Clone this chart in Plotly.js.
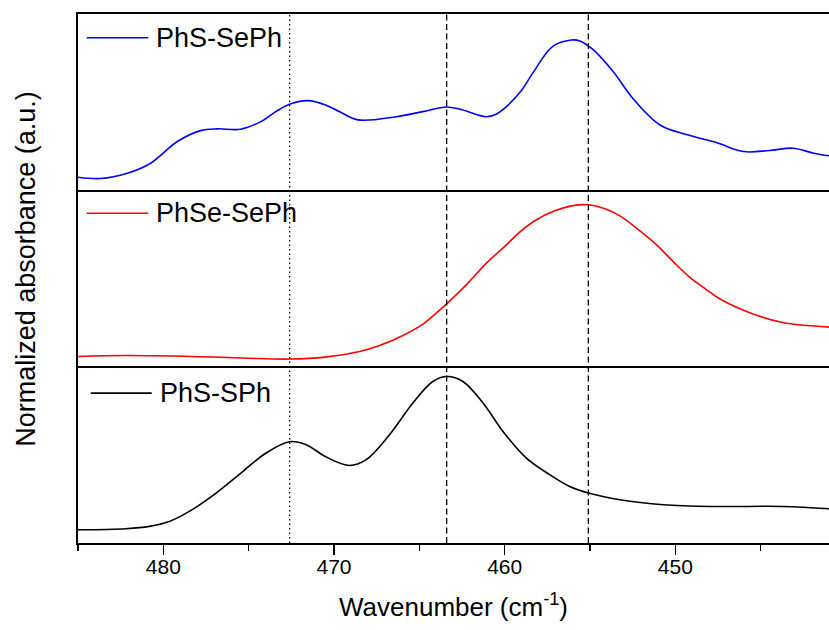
<!DOCTYPE html>
<html>
<head>
<meta charset="utf-8">
<script src="https://cdn.plot.ly/plotly-3.0.1.min.js"></script>
<style>html,body{margin:0;padding:0;background:#fff;}#chart{width:829px;height:630px;}</style>
</head>
<body>
<div id="chart"></div>
<script>
// Data (wavenumber in cm-1, normalized absorbance per panel)
var seriesNames = ['PhS-SePh', 'PhSe-SePh', 'PhS-SPh'];
var seriesColors = ['#0000FF', '#FF0000', '#000000'];

var phsSephX = [485.04, 483.68, 482.11, 480.74, 479.18, 477.81, 476.83, 475.47, 474.29, 473.31, 472.53, 471.55, 470.5, 469.7, 468.6, 466.35, 464.8, 463.4, 462.6, 461.1, 460.5, 459.9, 459.0, 458.3, 457.2, 456.1, 455.6, 454.8, 453.65, 452.5, 450.9, 449.3, 447.6, 446.0, 444.5, 443.1, 441.9, 441.0];
var phsSephY = [0.074, 0.066, 0.096, 0.153, 0.276, 0.338, 0.348, 0.346, 0.389, 0.452, 0.490, 0.508, 0.484, 0.446, 0.399, 0.417, 0.446, 0.472, 0.459, 0.417, 0.431, 0.474, 0.569, 0.673, 0.815, 0.852, 0.847, 0.796, 0.673, 0.522, 0.370, 0.314, 0.270, 0.219, 0.225, 0.238, 0.210, 0.195];

var phseSephX = [485.0, 482.2, 478.3, 475.35, 472.6, 470.5, 468.5, 467.33, 465.96, 464.79, 463.42, 462.25, 461.07, 459.90, 459.12, 458.14, 457.07, 456.09, 455.11, 454.13, 453.25, 452.28, 451.10, 450.13, 449.15, 448.17, 447.41, 445.6, 443.7, 441.0];
var phseSephY = [0.057, 0.062, 0.057, 0.048, 0.042, 0.053, 0.085, 0.119, 0.176, 0.240, 0.354, 0.463, 0.586, 0.690, 0.762, 0.832, 0.883, 0.911, 0.917, 0.894, 0.854, 0.785, 0.690, 0.595, 0.505, 0.435, 0.384, 0.303, 0.249, 0.223];

var phsSphX = [485.0, 482.2, 480.82, 479.65, 478.48, 476.91, 475.35, 473.98, 472.61, 471.63, 470.46, 469.09, 468.11, 466.75, 465.38, 464.21, 463.38, 462.45, 461.27, 460.10, 458.73, 457.36, 456.19, 455.1, 453.25, 450.7, 447.8, 443.7, 441.0];
var phsSphY = [0.075, 0.081, 0.094, 0.122, 0.179, 0.283, 0.405, 0.510, 0.574, 0.557, 0.487, 0.439, 0.472, 0.613, 0.793, 0.915, 0.943, 0.915, 0.793, 0.632, 0.481, 0.387, 0.320, 0.283, 0.245, 0.217, 0.207, 0.207, 0.194];

var dottedLines = [472.6];
var dashedLines = [463.4, 455.1];
var xTickVals = [480, 470, 460, 450];
var xRange = [485.0, 441.0];

var FONT = 'Liberation Sans, Arial, sans-serif';

var traces = [
  {x: phsSephX, y: phsSephY, xaxis: 'x3', yaxis: 'y3', name: seriesNames[0]},
  {x: phseSephX, y: phseSephY, xaxis: 'x2', yaxis: 'y2', name: seriesNames[1]},
  {x: phsSphX, y: phsSphY, xaxis: 'x', yaxis: 'y', name: seriesNames[2]}
].map(function (t, i) {
  t.type = 'scatter';
  t.mode = 'lines';
  t.line = {color: seriesColors[i], width: 1.6, shape: 'spline', smoothing: 1};
  t.showlegend = false;
  t.hoverinfo = 'skip';
  return t;
});

// panel domains (bottom, middle, top)
var d1 = 0.3337, d2 = 0.667;

var baseX = {
  range: xRange, autorange: false, showgrid: false, zeroline: false,
  showline: true, linecolor: '#000', linewidth: 2, mirror: false
};
var xaxis = Object.assign({}, baseX, {
  anchor: 'y', ticks: 'outside', ticklen: 10, tickwidth: 1.5, tickcolor: '#000',
  tickvals: xTickVals, ticktext: xTickVals.map(String),
  ticklabelstandoff: -6,
  tickfont: {family: FONT, size: 21, color: '#000'},
  minor: {dtick: 5, tick0: 0, ticks: 'outside', ticklen: 6, tickwidth: 1.5, tickcolor: '#000'},
  title: {text: 'Wavenumber (cm<sup>-1</sup>)', font: {family: FONT, size: 26, color: '#000'}, standoff: 21}
});
var xaxis2 = Object.assign({}, baseX, {anchor: 'y2', matches: 'x', showticklabels: false, ticks: ''});
var xaxis3 = Object.assign({}, baseX, {anchor: 'y3', matches: 'x', showticklabels: false, ticks: '', mirror: true});

var baseY = {
  range: [0, 1], autorange: false, showgrid: false, zeroline: false,
  showticklabels: false, ticks: '', showline: true, linecolor: '#000', linewidth: 2, mirror: true
};

var shapes = [];
dottedLines.forEach(function (v) {
  shapes.push({type: 'line', xref: 'x', yref: 'paper', x0: v, x1: v, y0: 0, y1: 1,
    line: {color: '#000', width: 1.3, dash: '1.5px,3px'}});
});
dashedLines.forEach(function (v) {
  shapes.push({type: 'line', xref: 'x', yref: 'paper', x0: v, x1: v, y0: 0, y1: 1,
    line: {color: '#000', width: 1.3, dash: '6px,3.5px'}});
});

// legend-style labels in each panel (paper coordinates)
var W = 751, H = 529.3, L = 78, T = 14;
function px(xp) { return (xp - L) / W; }
function py(yp) { return (T + H - yp) / H; }
var legendRows = [
  {x0: 86.7, x1: 148.3, y: 37.7, tx: 154},
  {x0: 86.7, x1: 148.3, y: 213.3, tx: 154},
  {x0: 90.7, x1: 151.7, y: 393.3, tx: 157.5}
];
var annotations = [];
legendRows.forEach(function (r, i) {
  shapes.push({type: 'line', xref: 'paper', yref: 'paper', x0: px(r.x0), x1: px(r.x1), y0: py(r.y), y1: py(r.y),
    line: {color: seriesColors[i], width: 1.6}});
  annotations.push({xref: 'paper', yref: 'paper', x: px(r.tx), y: py(r.y), xanchor: 'left', yanchor: 'middle',
    text: seriesNames[i], showarrow: false, font: {family: FONT, size: 27, color: '#000'}});
});
annotations.push({xref: 'paper', yref: 'paper', x: px(26), y: py(269), xanchor: 'center', yanchor: 'middle',
  textangle: -90, text: 'Normalized absorbance (a.u.)', showarrow: false,
  font: {family: FONT, size: 27, color: '#000'}});

var layout = {
  width: 829, height: 630,
  margin: {l: 78, r: 0, t: 14, b: 87},
  paper_bgcolor: '#fff', plot_bgcolor: '#fff',
  showlegend: false,
  xaxis: xaxis, xaxis2: xaxis2, xaxis3: xaxis3,
  yaxis: Object.assign({}, baseY, {domain: [0, d1], anchor: 'x'}),
  yaxis2: Object.assign({}, baseY, {domain: [d1, d2], anchor: 'x2'}),
  yaxis3: Object.assign({}, baseY, {domain: [d2, 1], anchor: 'x3'}),
  shapes: shapes,
  annotations: annotations
};

Plotly.newPlot('chart', traces, layout, {staticPlot: true, displayModeBar: false});
</script>
</body>
</html>
